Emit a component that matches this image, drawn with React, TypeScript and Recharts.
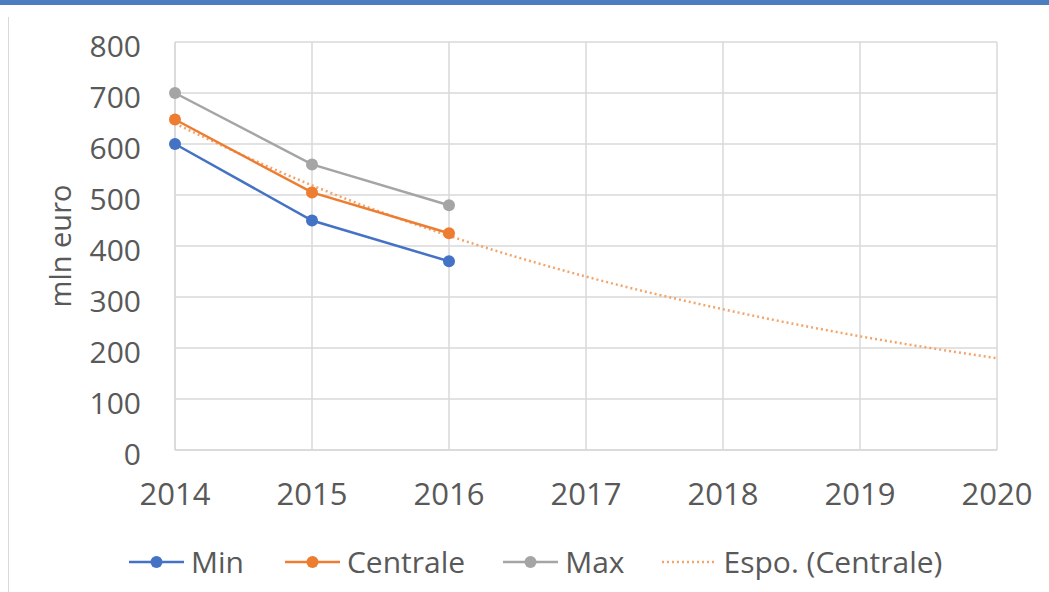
import { LineChart, Line, XAxis, YAxis, CartesianGrid } from 'recharts';

const years = ['2014', '2015', '2016', '2017', '2018', '2019', '2020'];
const minValues = [600, 450, 370];
const centraleValues = [648, 505, 425];
const maxValues = [700, 560, 480];
const trendValues = [640, 519, 420, 340, 276, 223, 180];
const yTicks = [0, 100, 200, 300, 400, 500, 600, 700, 800];

const data = years.map((year, i) => ({
  year,
  min: minValues[i],
  centrale: centraleValues[i],
  max: maxValues[i],
  trend: trendValues[i],
}));

const FONT = '"Open Sans", sans-serif';
const TEXT = '#595959';
const GRID = '#d9d9d9';

const legendItems = [
  { name: 'Min', color: '#4472c4', dotted: false, gap: 40 },
  { name: 'Centrale', color: '#ed7d31', dotted: false, gap: 37 },
  { name: 'Max', color: '#a5a5a5', dotted: false, gap: 36 },
  { name: 'Espo. (Centrale)', color: '#f4a46a', dotted: true, gap: 0 },
];

const LegendIcon = ({ color, dotted }: { color: string; dotted: boolean }) => (
  <svg width={57} height={14} style={{ marginRight: 6 }}>
    {dotted ? (
      <line x1={1} y1={7} x2={56} y2={7} stroke={color} strokeWidth={2.5} strokeDasharray="2 3" />
    ) : (
      <>
        <line x1={1} y1={7} x2={56} y2={7} stroke={color} strokeWidth={2.5} />
        <circle cx={28.5} cy={7} r={6} fill={color} />
      </>
    )}
  </svg>
);

const App = () => {
  return (
    <div style={{ position: 'absolute', left: 0, top: 0, width: 1049, height: 592, background: '#fff', overflow: 'hidden' }}>
      <div style={{ position: 'absolute', left: 0, top: 0, width: 1049, height: 5, background: '#4a7ebf' }} />
      <div style={{ position: 'absolute', left: 8, top: 17, width: 1, height: 575, background: GRID }} />
      <LineChart
        width={1049}
        height={592}
        data={data}
        margin={{ top: 42, right: 52, left: 0, bottom: 0 }}
        style={{ position: 'absolute', left: 0, top: 0 }}
      >
        <CartesianGrid stroke={GRID} strokeWidth={1.5} />
        <XAxis
          dataKey="year"
          height={142}
          stroke={GRID}
          strokeWidth={1.5}
          tickLine={false}
          tickSize={0}
          tickMargin={33}
          tick={{ fill: TEXT, fontSize: 31, fontFamily: FONT }}
        />
        <YAxis
          width={175}
          domain={[0, 800]}
          ticks={yTicks}
          stroke={GRID}
          strokeWidth={1.5}
          tickLine={false}
          tickSize={0}
          tickMargin={34}
          tick={{ fill: TEXT, fontSize: 30, fontFamily: FONT, dy: 4 }}
          label={{
            value: 'mln euro',
            angle: -90,
            position: 'insideLeft',
            offset: 61,
            style: { fill: TEXT, fontSize: 29, fontFamily: FONT, textAnchor: 'middle' },
          }}
        />
        <Line
          dataKey="trend"
          type="monotone"
          stroke="#f4a46a"
          strokeWidth={2.5}
          strokeDasharray="2 3"
          dot={false}
          isAnimationActive={false}
        />
        <Line dataKey="min" stroke="#4472c4" strokeWidth={2.5} dot={{ r: 6, fill: '#4472c4', strokeWidth: 0 }} isAnimationActive={false} />
        <Line dataKey="centrale" stroke="#ed7d31" strokeWidth={2.5} dot={{ r: 6, fill: '#ed7d31', strokeWidth: 0 }} isAnimationActive={false} />
        <Line dataKey="max" stroke="#a5a5a5" strokeWidth={2.5} dot={{ r: 6, fill: '#a5a5a5', strokeWidth: 0 }} isAnimationActive={false} />
      </LineChart>
      <div
        style={{
          position: 'absolute',
          left: 128,
          top: 541,
          display: 'flex',
          alignItems: 'center',
          fontFamily: FONT,
          fontSize: 30,
          color: TEXT,
          whiteSpace: 'nowrap',
        }}
      >
        {legendItems.map((item) => (
          <div key={item.name} style={{ display: 'flex', alignItems: 'center', marginRight: item.gap }}>
            <LegendIcon color={item.color} dotted={item.dotted} />
            <span>{item.name}</span>
          </div>
        ))}
      </div>
    </div>
  );
};

export default App;
